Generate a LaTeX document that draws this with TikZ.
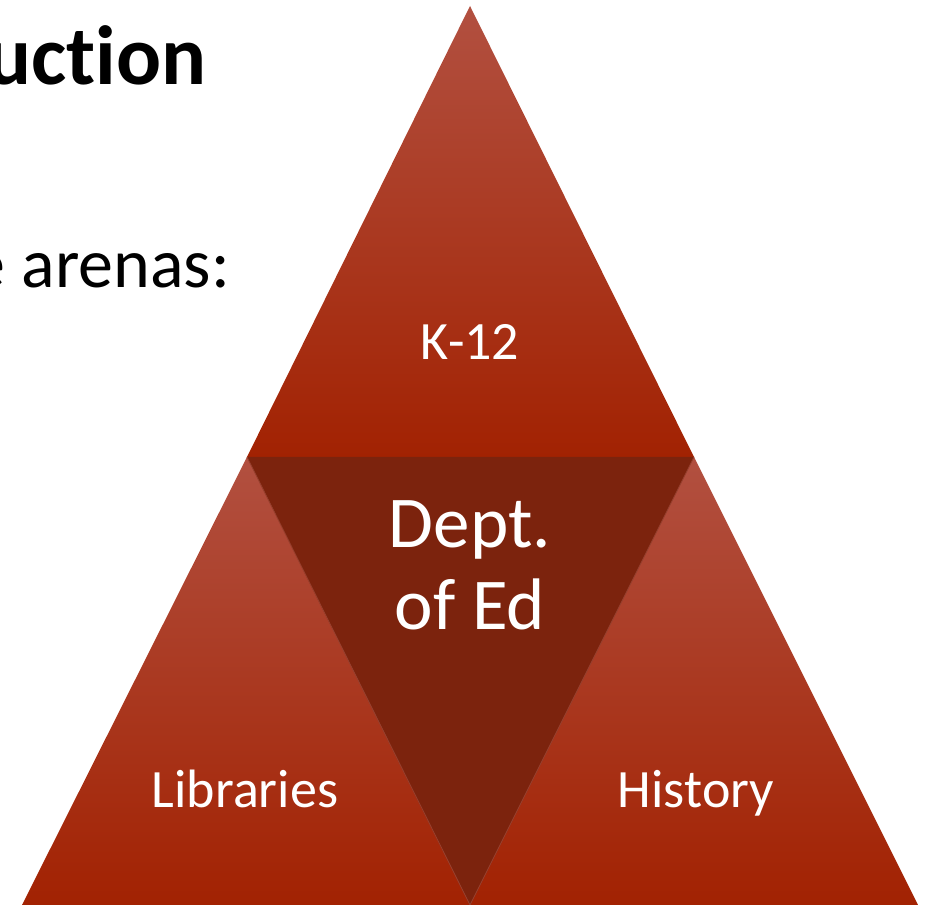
\documentclass[tikz,border=0pt]{standalone}
\usepackage{fontspec}
\setmainfont{Carlito}[Ligatures=NoCommon]
\definecolor{triTop}{RGB}{178,80,64}
\definecolor{triBot}{RGB}{162,34,2}
\definecolor{midRed}{RGB}{124,35,13}
\definecolor{edgeRed}{RGB}{150,62,44}
\begin{document}
\begin{tikzpicture}[x=1pt,y=1pt,
  lbl/.style={text=white,inner sep=0pt,anchor=base},
  tri/.style={top color=triTop,bottom color=triBot}]
\useasboundingbox (0,0) rectangle (930,905);
% Esquinas
\coordinate (apex) at (470,899);
\coordinate (bl) at (247,448);
\coordinate (br) at (694,448);
\coordinate (l0) at (22,0);
\coordinate (m0) at (470,0);
\coordinate (r0) at (918,0);
% Triangulos
\shade[tri] (bl) -- (apex) -- (br) -- cycle;
\shade[tri] (l0) -- (bl) -- (m0) -- cycle;
\shade[tri] (m0) -- (br) -- (r0) -- cycle;
\fill[midRed] (bl) -- (br) -- (m0) -- cycle;
\draw[edgeRed,line width=0.8pt] (bl) -- (m0) -- (br);
% Textos
\node[lbl,font=\fontsize{54}{62}\selectfont] (k12) at (470,545) {K-12};
\node[lbl,font=\fontsize{73}{82}\selectfont] (dept) at (470,357) {Dept.};
\node[lbl,font=\fontsize{73}{82}\selectfont] (ofed) at (470,275) {of Ed};
\node[lbl,font=\fontsize{54}{62}\selectfont] (libs) at (245,97) {Libraries};
\node[lbl,font=\fontsize{54}{62}\selectfont] (hist) at (696,97) {History};
% Titulo
\node[inner sep=0pt,anchor=base east,font=\fontsize{84}{96}\bfseries\selectfont] (title) at (207,820) {uction};
\node[inner sep=0pt,anchor=base east,font=\fontsize{70}{80}\selectfont] (arenas) at (230,617) {e arenas:};
\end{tikzpicture}
\end{document}
